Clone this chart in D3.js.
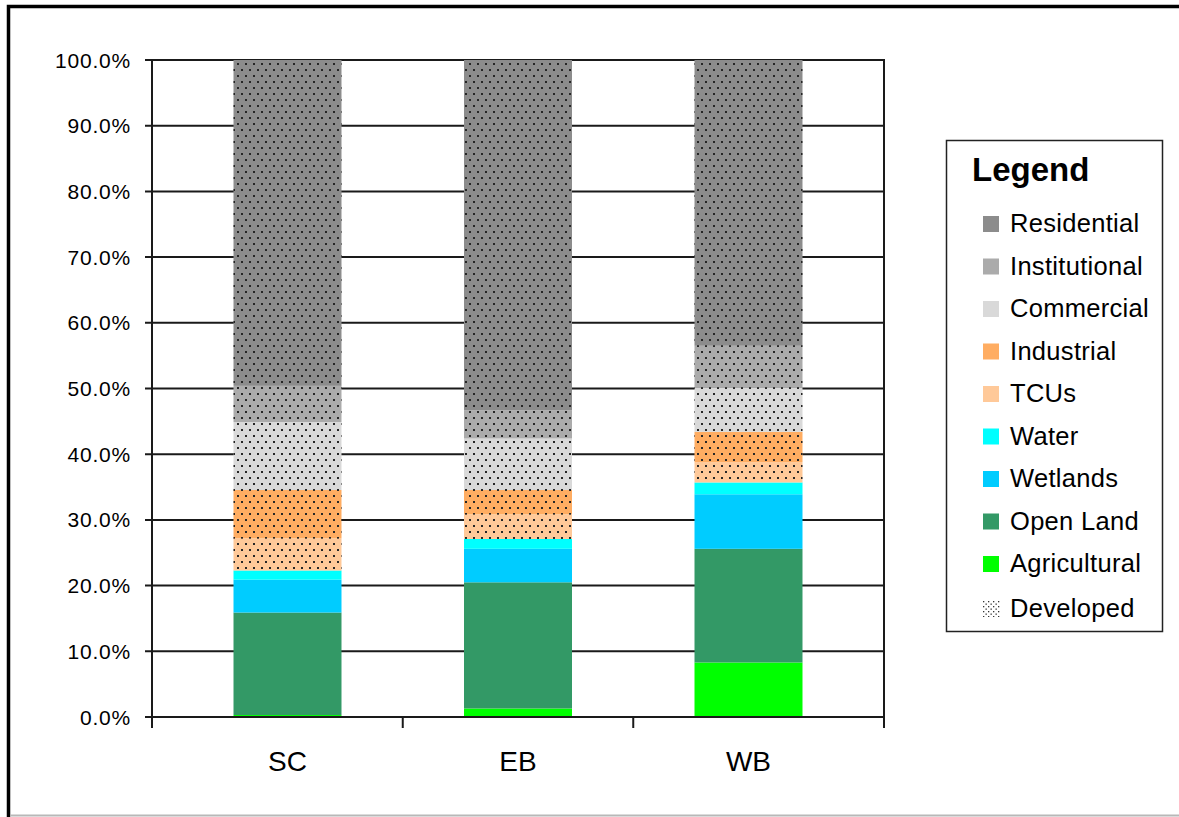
<!DOCTYPE html>
<html>
<head>
<meta charset="utf-8">
<script src="https://cdn.jsdelivr.net/npm/d3@7"></script>
<style>
  html, body { margin: 0; padding: 0; background: #fff; }
  svg { display: block; }
  text { font-family: Arial, "Liberation Sans", sans-serif; fill: #000; }
</style>
</head>
<body>
<svg id="chart" width="1179" height="817"></svg>
<script>
// Land use share by sub-basin (percent of area), stacked bottom to top
const categories = ["SC", "EB", "WB"];
const landUses = ["Agricultural", "Open Land", "Wetlands", "Water", "TCUs",
                  "Industrial", "Commercial", "Institutional", "Residential"];
const agricultural  = [0.3, 1.3, 8.3];
const openLand      = [15.6, 19.2, 17.3];
const wetlands      = [5.0, 5.1, 8.3];
const water         = [1.4, 1.5, 1.8];
const tcus          = [4.9, 3.75, 3.1];
const industrial    = [7.35, 3.7, 4.6];
const commercial    = [10.35, 7.85, 6.7];
const institutional = [5.5, 4.3, 6.4];
const residential   = [49.6, 53.3, 43.5];
const developedUses = ["TCUs", "Industrial", "Commercial", "Institutional", "Residential"];
const yTicks = [0, 10, 20, 30, 40, 50, 60, 70, 80, 90, 100];
const legendOrder = ["Residential", "Institutional", "Commercial", "Industrial", "TCUs",
                     "Water", "Wetlands", "Open Land", "Agricultural"];
const colors = {
  "Residential": "#8c8c8c",
  "Institutional": "#ababab",
  "Commercial": "#d9d9d9",
  "Industrial": "#ffad62",
  "TCUs": "#ffc999",
  "Water": "#00ffff",
  "Wetlands": "#00ccff",
  "Open Land": "#339966",
  "Agricultural": "#00ff00"
};

const series = [agricultural, openLand, wetlands, water, tcus,
                industrial, commercial, institutional, residential];
const rows = categories.map((c, i) => {
  const r = { category: c };
  landUses.forEach((k, j) => { r[k] = series[j][i]; });
  return r;
});
const stacked = d3.stack().keys(landUses)(rows);

const svg = d3.select("#chart");

// outer frame
svg.append("rect").attr("x", 8.5).attr("y", 6.5).attr("width", 1200).attr("height", 900)
  .attr("fill", "none").attr("stroke", "#000").attr("stroke-width", 3.5);
svg.append("line").attr("x1", 10).attr("x2", 1179).attr("y1", 815.5).attr("y2", 815.5)
  .attr("stroke", "#b8b8b8").attr("stroke-width", 2);

// dot pattern for developed land uses
const defs = svg.append("defs");
const pat = defs.append("pattern").attr("id", "dots")
  .attr("patternUnits", "userSpaceOnUse").attr("width", 8).attr("height", 12)
  .attr("x", 237).attr("y", 63);
pat.append("rect").attr("x", 0).attr("y", 0).attr("width", 2).attr("height", 2).attr("fill", "#262626");
pat.append("rect").attr("x", 4).attr("y", 6).attr("width", 2).attr("height", 2).attr("fill", "#262626");

const plot = { left: 152, right: 884, top: 60, bottom: 717 };

const x = d3.scaleBand().domain(categories)
  .range([plot.left, plot.right]).paddingInner(0.5315).paddingOuter(0.3536);
const y = d3.scaleLinear().domain([0, 100]).range([plot.bottom, plot.top]);

// gridlines
svg.append("g").selectAll("line").data(yTicks).join("line")
  .attr("x1", plot.left - 7).attr("x2", plot.right)
  .attr("y1", d => y(d)).attr("y2", d => y(d))
  .attr("stroke", "#1a1a1a").attr("stroke-width", 2);

// bars
const layer = svg.append("g").selectAll("g").data(stacked).join("g");
layer.selectAll("rect.fill").data(d => d.map(p => ({ p, key: d.key }))).join("rect")
  .attr("class", "fill")
  .attr("x", d => x(d.p.data.category))
  .attr("width", x.bandwidth())
  .attr("y", d => y(d.p[1]))
  .attr("height", d => y(d.p[0]) - y(d.p[1]))
  .attr("fill", d => colors[d.key]);
layer.filter(d => developedUses.includes(d.key))
  .selectAll("rect.dev").data(d => d.map(p => ({ p, key: d.key }))).join("rect")
  .attr("class", "dev")
  .attr("x", d => x(d.p.data.category))
  .attr("width", x.bandwidth())
  .attr("y", d => y(d.p[1]))
  .attr("height", d => y(d.p[0]) - y(d.p[1]))
  .attr("fill", "url(#dots)");

// axes
svg.append("line").attr("x1", plot.left).attr("x2", plot.left)
  .attr("y1", plot.top - 1).attr("y2", plot.bottom + 11)
  .attr("stroke", "#1a1a1a").attr("stroke-width", 2);
svg.append("line").attr("x1", plot.right).attr("x2", plot.right)
  .attr("y1", plot.top - 1).attr("y2", plot.bottom + 11)
  .attr("stroke", "#1a1a1a").attr("stroke-width", 2);
svg.append("line").attr("x1", plot.left).attr("x2", plot.right)
  .attr("y1", plot.bottom).attr("y2", plot.bottom)
  .attr("stroke", "#1a1a1a").attr("stroke-width", 2);

// category separators on the x axis
const step = x.step();
const seps = categories.slice(1).map(c => x(c) + x.bandwidth() / 2 - step / 2);
svg.append("g").selectAll("line").data(seps).join("line")
  .attr("x1", d => d).attr("x2", d => d)
  .attr("y1", plot.bottom).attr("y2", plot.bottom + 11)
  .attr("stroke", "#1a1a1a").attr("stroke-width", 2);

// y tick labels
const fmt = d3.format(".1f");
svg.append("g").selectAll("text").data(yTicks).join("text")
  .attr("x", 131).attr("y", d => y(d))
  .attr("dy", "0.36em")
  .attr("text-anchor", "end")
  .style("font-size", "21px")
  .style("letter-spacing", "0.8px")
  .text(d => fmt(d) + "%");

// x labels
svg.append("g").selectAll("text").data(categories).join("text")
  .attr("x", d => x(d) + x.bandwidth() / 2)
  .attr("y", 771)
  .attr("text-anchor", "middle")
  .style("font-size", "28px")
  .text(d => d);

// legend
const lg = svg.append("g");
lg.append("rect").attr("x", 946.5).attr("y", 140.5).attr("width", 216).attr("height", 491)
  .attr("fill", "#fff").attr("stroke", "#222").attr("stroke-width", 1.5);
lg.append("text").attr("x", 972).attr("y", 181)
  .style("font-size", "33px").style("font-weight", "bold").text("Legend");
const items = lg.selectAll("g.item").data(legendOrder).join("g").attr("class", "item")
  .attr("transform", (d, i) => `translate(0,${232 + i * 42.5})`);
items.append("rect").attr("x", 983).attr("y", -16).attr("width", 16).attr("height", 16)
  .attr("fill", d => colors[d]);
items.append("text").attr("x", 1010).attr("y", 0)
  .style("font-size", "25.5px").style("letter-spacing", "0.3px").text(d => d);

const devPat = defs.append("pattern").attr("id", "dotsLegend")
  .attr("patternUnits", "userSpaceOnUse").attr("width", 5).attr("height", 5)
  .attr("x", 983).attr("y", 601);
devPat.append("rect").attr("width", 1.3).attr("height", 1.3).attr("fill", "#333");
devPat.append("rect").attr("x", 2.5).attr("y", 2.5).attr("width", 1.3).attr("height", 1.3).attr("fill", "#333");
lg.append("rect").attr("x", 983).attr("y", 601).attr("width", 17).attr("height", 16)
  .attr("fill", "url(#dotsLegend)");
lg.append("text").attr("x", 1010).attr("y", 617)
  .style("font-size", "25.5px").style("letter-spacing", "0.3px").text("Developed");
</script>
</body>
</html>
